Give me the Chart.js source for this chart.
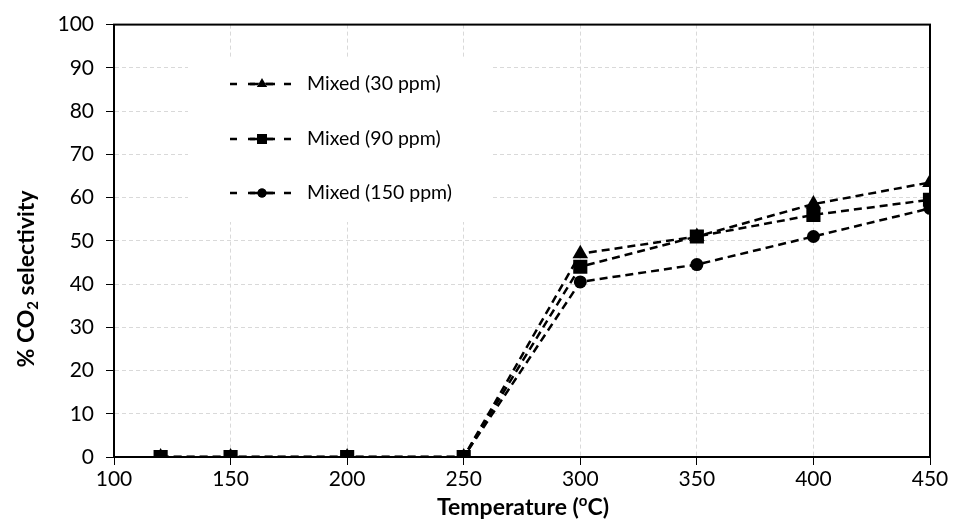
<!DOCTYPE html>
<html>
<head>
<meta charset="utf-8">
<script src="https://cdn.jsdelivr.net/npm/chart.js@4.4.0/dist/chart.umd.min.js"></script>
<style>
  html, body { margin: 0; padding: 0; background: #fff; }
  #wrap { width: 955px; height: 527px; }
</style>
</head>
<body>
<div id="wrap"><canvas id="selChart"></canvas></div>
<script>
// data
const temps = [120, 150, 200, 250, 300, 350, 400, 450];
const mixed30 = [0, 0, 0, 0, 47, 51, 58.5, 63.5];
const mixed90 = [0, 0, 0, 0, 44, 51, 56, 59.5];
const mixed150 = [0, 0, 0, 0, 40.5, 44.5, 51, 57.5];
const seriesNames = ['Mixed (30 ppm)', 'Mixed (90 ppm)', 'Mixed (150 ppm)'];
const seriesMarkers = ['triangle', 'rect', 'circle'];
const xTicks = [100, 150, 200, 250, 300, 350, 400, 450];
const yTicks = [0, 10, 20, 30, 40, 50, 60, 70, 80, 90, 100];

const FONT = 'Lato, "Open Sans", sans-serif';

function toPoints(vals) {
    return temps.map((t, i) => ({ x: t, y: vals[i] }));
}

function makeSet(i, vals, radius) {
    return {
        label: seriesNames[i],
        data: toPoints(vals),
        borderColor: '#000',
        backgroundColor: '#000',
        borderWidth: 2.5,
        borderDash: [8, 5],
        pointStyle: seriesMarkers[i],
        pointRadius: radius,
        pointBackgroundColor: '#000',
        pointBorderColor: '#000',
        pointBorderWidth: 0,
        tension: 0
    };
}

// draws pieces of text one after another, some raised or lowered
function drawRuns(ctx, runs, cx, cy) {
    let total = 0;
    runs.forEach(r => { ctx.font = r.font; total += ctx.measureText(r.text).width; });
    let x = cx - total / 2;
    runs.forEach(r => {
        ctx.font = r.font;
        ctx.fillText(r.text, x, cy + (r.dy || 0));
        x += ctx.measureText(r.text).width;
    });
}

// white legend box drawn inside the plot, over the grid
const legendBox = {
    id: 'legendBox',
    beforeDatasetsDraw(chart) {
        const ctx = chart.ctx;
        const rows = [84, 139, 193];
        const sizes = [6, 7, 4.5];
        ctx.save();
        ctx.fillStyle = '#fff';
        ctx.fillRect(188, 57, 302, 165);
        rows.forEach((y, i) => {
            ctx.strokeStyle = '#000';
            ctx.lineWidth = 2.5;
            ctx.setLineDash([7, 11]);
            ctx.beginPath();
            ctx.moveTo(230, y);
            ctx.lineTo(297, y);
            ctx.stroke();
            ctx.setLineDash([]);
            ctx.beginPath();
            ctx.moveTo(250, y);
            ctx.lineTo(275, y);
            ctx.stroke();
            Chart.helpers.drawPoint(ctx, {
                pointStyle: seriesMarkers[i], radius: sizes[i], rotation: 0, borderWidth: 0
            }, 262, y);
            ctx.fillStyle = '#000';
            ctx.fill();
            ctx.font = '19.5px ' + FONT;
            ctx.textAlign = 'left';
            ctx.textBaseline = 'middle';
            ctx.fillText(seriesNames[i], 307, y);
        });
        ctx.restore();
    }
};

// plot frame and axis titles
const frame = {
    id: 'frame',
    afterDraw(chart) {
        const a = chart.chartArea;
        const ctx = chart.ctx;
        const big = 'bold 23px ' + FONT;
        const small = 'bold 15px ' + FONT;
        ctx.save();
        ctx.strokeStyle = '#000';
        ctx.lineWidth = 2;
        ctx.setLineDash([]);
        ctx.strokeRect(a.left, a.top, a.right - a.left, a.bottom - a.top);
        ctx.fillStyle = '#000';
        ctx.textAlign = 'left';
        ctx.textBaseline = 'middle';
        drawRuns(ctx, [
            { text: 'Temperature (', font: big },
            { text: 'o', font: small, dy: -7 },
            { text: 'C)', font: big }
        ], 523, 508);
        ctx.translate(27, 279);
        ctx.rotate(-Math.PI / 2);
        drawRuns(ctx, [
            { text: '% CO', font: big },
            { text: '2', font: small, dy: 6 },
            { text: ' selectivity', font: big }
        ], 0, 0);
        ctx.restore();
    }
};

new Chart(document.getElementById('selChart'), {
    type: 'line',
    data: {
        datasets: [
            makeSet(0, mixed30, 9),
            makeSet(1, mixed90, 10),
            makeSet(2, mixed150, 6.5)
        ]
    },
    options: {
        responsive: true,
        maintainAspectRatio: false,
        animation: false,
        layout: { padding: { top: 21, right: 25, left: 0, bottom: 0 } },
        plugins: {
            legend: { display: false },
            tooltip: { enabled: false }
        },
        scales: {
            x: {
                type: 'linear',
                min: 100,
                max: 450,
                afterBuildTicks: s => { s.ticks = xTicks.map(v => ({ value: v })); },
                afterFit: s => { s.height = 70; },
                border: { display: true, color: '#000', width: 2, dash: [4, 3] },
                grid: {
                    color: '#d9d9d9',
                    tickColor: '#000',
                    tickLength: 8,
                    tickBorderDash: [],
                    lineWidth: 1
                },
                ticks: {
                    color: '#000',
                    font: { family: FONT, size: 21 },
                    padding: 2,
                    maxRotation: 0
                }
            },
            y: {
                min: 0,
                max: 100,
                afterBuildTicks: s => { s.ticks = yTicks.map(v => ({ value: v })); },
                afterFit: s => { s.width = 114; },
                border: { display: true, color: '#000', width: 2, dash: [4, 3] },
                grid: {
                    color: '#d9d9d9',
                    tickColor: '#000',
                    tickLength: 8,
                    tickBorderDash: [],
                    lineWidth: 1
                },
                ticks: {
                    color: '#000',
                    font: { family: FONT, size: 21 },
                    padding: 12
                }
            }
        }
    },
    plugins: [legendBox, frame]
});
</script>
</body>
</html>
